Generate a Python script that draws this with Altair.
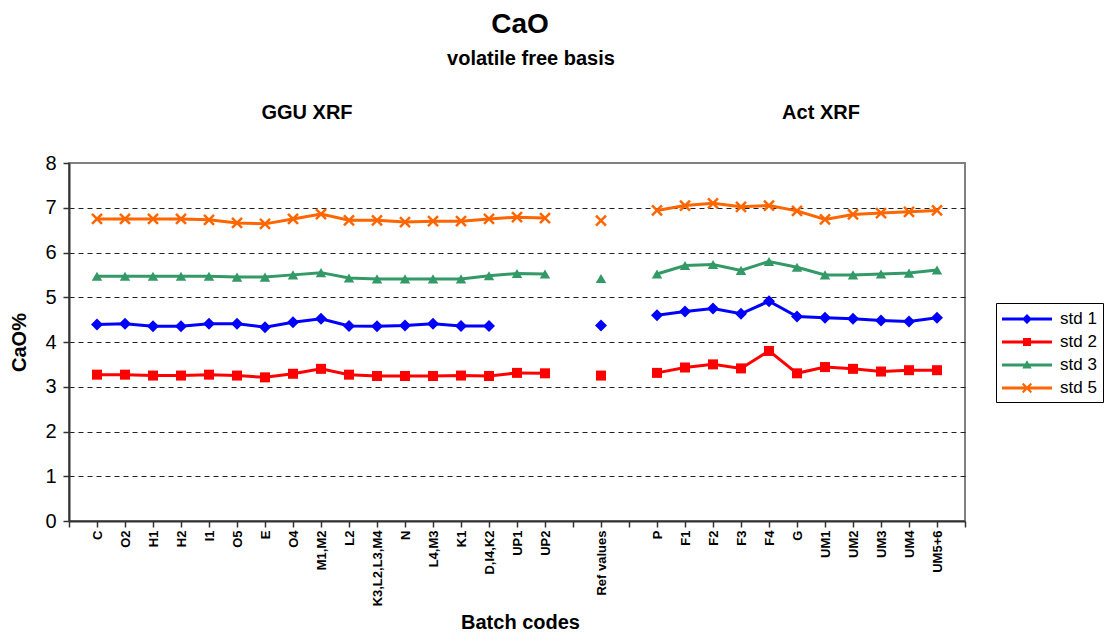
import json
import altair as alt
import pandas as pd

# ---------------- data ----------------
ggu_codes = ["C", "O2", "H1", "H2", "I1", "O5", "E", "O4", "M1,M2", "L2",
             "K3,L2,L3,M4", "N", "L4,M3", "K1", "D,I4,K2", "UP1", "UP2"]
ref_code = "Ref values"
act_codes = ["P", "F1", "F2", "F3", "F4", "G", "UM1", "UM2", "UM3", "UM4", "UM5+6"]

series_names = ["std 1", "std 2", "std 3", "std 5"]
series_colors = ["#0000FF", "#FF0000", "#339966", "#FF6600"]

std1_ggu = [4.39, 4.41, 4.35, 4.35, 4.41, 4.41, 4.33, 4.44, 4.52, 4.36, 4.35, 4.37, 4.41, 4.36, 4.36, None, None]
std2_ggu = [3.27, 3.27, 3.25, 3.25, 3.27, 3.25, 3.21, 3.29, 3.40, 3.27, 3.24, 3.24, 3.24, 3.25, 3.24, 3.31, 3.30]
std3_ggu = [5.47, 5.47, 5.47, 5.47, 5.47, 5.45, 5.45, 5.50, 5.55, 5.43, 5.41, 5.41, 5.41, 5.41, 5.48, 5.53, 5.52]
std5_ggu = [6.75, 6.75, 6.75, 6.75, 6.73, 6.66, 6.64, 6.75, 6.86, 6.72, 6.72, 6.68, 6.70, 6.70, 6.75, 6.79, 6.77]

ref_vals = [4.37, 3.25, 5.42, 6.71]

std1_act = [4.60, 4.68, 4.75, 4.63, 4.91, 4.57, 4.54, 4.52, 4.48, 4.46, 4.54]
std2_act = [3.31, 3.43, 3.50, 3.41, 3.80, 3.30, 3.44, 3.40, 3.34, 3.37, 3.37]
std3_act = [5.52, 5.71, 5.73, 5.60, 5.80, 5.67, 5.50, 5.50, 5.52, 5.54, 5.61]
std5_act = [6.94, 7.05, 7.10, 7.02, 7.05, 6.93, 6.74, 6.85, 6.88, 6.91, 6.94]

y_ticks = [0, 1, 2, 3, 4, 5, 6, 7, 8]

# ---------------- table ----------------
ggu_vals = [std1_ggu, std2_ggu, std3_ggu, std5_ggu]
act_vals = [std1_act, std2_act, std3_act, std5_act]

axis_codes = [""] + ggu_codes + [""] + [ref_code] + [""] + act_codes + [""]
pos = {c: i for i, c in enumerate(axis_codes) if c}

rows = []
for s, gv, rv, av in zip(series_names, ggu_vals, ref_vals, act_vals):
    for code, v in zip(ggu_codes, gv):
        if v is not None:
            rows.append(dict(series=s, code=code, pos=pos[code], value=v, group="GGU"))
    rows.append(dict(series=s, code=ref_code, pos=pos[ref_code], value=rv, group="Ref"))
    for code, v in zip(act_codes, av):
        if v is not None:
            rows.append(dict(series=s, code=code, pos=pos[code], value=v, group="Act"))
df = pd.DataFrame(rows)

FONT = "Liberation Sans"
W, H = 896, 358

label_expr = "[" + ",".join(json.dumps(c) for c in axis_codes) + "][datum.value]"

x_enc = alt.X(
    "pos:Q",
    scale=alt.Scale(domain=[0, len(axis_codes) - 1], nice=False, zero=False),
    axis=alt.Axis(
        values=list(range(len(axis_codes))), labelExpr=label_expr, labelAngle=-90,
        labelFont=FONT, labelFontSize=13, labelFontWeight="bold", labelColor="black",
        labelPadding=3, labelOverlap=False, labelFlush=False, labelBound=False,
        tickSize=6, tickColor="#333333", tickWidth=1.5,
        domainColor="#333333", domainWidth=2, grid=False,
        title="Batch codes", titleFont=FONT, titleFontSize=20, titleFontWeight="bold",
        titleColor="black", titleX=451, titleY=107, titleBaseline="alphabetic",
        titleAnchor="start", titleAlign="center",
    ),
)
y_enc = alt.Y(
    "value:Q",
    scale=alt.Scale(domain=[0, 8], nice=False, zero=True),
    axis=alt.Axis(
        values=y_ticks, labelFont=FONT, labelFontSize=20, labelColor="black",
        labelPadding=7, tickSize=6, tickColor="#333333", tickWidth=1.5,
        domainColor="#333333", domainWidth=2,
        grid=True, gridDash=[5, 4], gridColor="#222222", gridWidth=1,
        gridOpacity={"condition": {"test": "datum.value === 8 || datum.value === 0", "value": 0}, "value": 1},
        title="CaO%", titleFont=FONT, titleFontSize=20, titleFontWeight="bold", titleColor="black",
        titleAngle=-90, titleX=-50, titleY=H / 2, titleAlign="center", titleBaseline="middle",
    ),
)

base = alt.Chart(df)

point_styles = [
    dict(shape="diamond", filled=True, size=144, strokeWidth=0),
    dict(shape="square", filled=True, size=100, strokeWidth=0),
    dict(shape="triangle-up", filled=True, size=110, strokeWidth=0),
    dict(shape="M-1,-1L1,1M-1,1L1,-1", filled=False, size=100, strokeWidth=2.5),
]

layers = []
for s, col, st in zip(series_names, series_colors, point_styles):
    layers.append(
        base.transform_filter((alt.datum.series == s) & (alt.datum.group != "Ref"))
        .mark_line(color=col, strokeWidth=3)
        .encode(x=x_enc, y=y_enc, detail="group:N")
    )
for s, col, st in zip(series_names, series_colors, point_styles):
    layers.append(
        base.transform_filter(alt.datum.series == s)
        .mark_point(color=col, opacity=1, **st)
        .encode(x=x_enc, y=y_enc)
    )

# legend glyphs: a line with the series marker in its middle (path units scaled by r=10)
line_part = "M-1,-0.14H4V0.14H-1Z"
legend_paths = [
    line_part + " M1.5,-0.5L2,0L1.5,0.5L1,0Z",
    line_part + " M1.1,-0.4H1.9V0.4H1.1Z",
    line_part + " M1.5,-0.48L1.97,0.34L1.03,0.34Z",
    line_part + " M1.135,-0.515L1.995,0.345L1.865,0.515L1.005,-0.345Z"
    " M1.995,-0.345L1.135,0.515L1.005,0.345L1.865,-0.515Z",
]

leg = dict(
    title=None, orient="none", legendX=927, legendY=140,
    symbolSize=400, symbolOpacity=1, symbolStrokeWidth=0,
    labelFont=FONT, labelFontSize=17, labelColor="black", labelOffset=38,
    padding=6, strokeColor="black", rowPadding=5,
)
legend_layer = (
    alt.Chart(pd.DataFrame({"series": series_names}))
    .mark_point(filled=True, opacity=0)
    .encode(
        color=alt.Color("series:N", scale=alt.Scale(domain=series_names, range=series_colors),
                        legend=alt.Legend(**leg)),
        shape=alt.Shape("series:N", scale=alt.Scale(domain=series_names, range=legend_paths),
                        legend=alt.Legend(**leg)),
    )
)
layers.append(legend_layer)

def text_layer(txt, size, x, y):
    return (
        alt.Chart(pd.DataFrame({"t": [txt]}))
        .mark_text(font=FONT, fontSize=size, fontWeight="bold", color="black",
                   align="center", baseline="alphabetic")
        .encode(text="t:N", x=alt.value(x), y=alt.value(y))
    )

layers.append(text_layer("CaO", 28, 451, -130))
layers.append(text_layer("volatile free basis", 20, 462, -98))
layers.append(text_layer("GGU XRF", 20, 238, -44))
layers.append(text_layer("Act XRF", 20, 752, -44))

chart = (
    alt.layer(*layers)
    .properties(
        width=W, height=H,
        autosize=alt.AutoSizeParams(type="none"),
        padding={"left": 61, "top": 155, "right": 139, "bottom": 113},
        background="white",
    )
    .configure_view(stroke="#808080", strokeWidth=2)
)

chart.save("out.html", embed_options={"renderer": "svg", "actions": False})
